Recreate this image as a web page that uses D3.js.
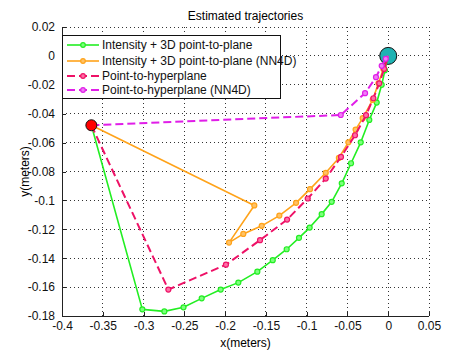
<!DOCTYPE html>
<html><head><meta charset="utf-8">
<script src="https://cdn.jsdelivr.net/npm/d3@7"></script>
<style>body{margin:0;background:#fff}svg{display:block;font-family:"Liberation Sans",Arial,sans-serif}</style>
</head><body><svg id="c" width="474" height="355"></svg>
<script>
const title = "Estimated trajectories";
const xLabel = "x(meters)";
const yLabel = "y(meters)";
const xTicks = [-0.4,-0.35,-0.3,-0.25,-0.2,-0.15,-0.1,-0.05,0,0.05];
const yTicks = [0.02,0,-0.02,-0.04,-0.06,-0.08,-0.1,-0.12,-0.14,-0.16,-0.18];
const seriesNames = ["Intensity + 3D point-to-plane","Intensity + 3D point-to-plane (NN4D)","Point-to-hyperplane","Point-to-hyperplane (NN4D)"];
const startPoint = [-0.364,-0.048];
const endPoint = [0,0];
const greenPts = [[-0.364,-0.048],[-0.3015,-0.1754],[-0.2745,-0.1768],[-0.251,-0.174],[-0.2287,-0.1678],[-0.2054,-0.1617],[-0.1838,-0.1569],[-0.1605,-0.1493],[-0.1416,-0.1414],[-0.1245,-0.1338],[-0.1094,-0.1259],[-0.0963,-0.1188],[-0.0816,-0.1095],[-0.0693,-0.101],[-0.057,-0.0882],[-0.0456,-0.0743],[-0.0337,-0.0598],[-0.0232,-0.0443],[-0.0141,-0.0323],[-0.008,-0.020],[-0.004,-0.010],[0,0]];
const orangePts = [[-0.364,-0.048],[-0.1642,-0.1035],[-0.1952,-0.1292],[-0.1777,-0.1232],[-0.1551,-0.1176],[-0.1335,-0.1105],[-0.113,-0.1017],[-0.0959,-0.0922],[-0.0766,-0.0809],[-0.0605,-0.0706],[-0.0489,-0.0598],[-0.040,-0.051],[-0.0313,-0.0431],[-0.019,-0.0304],[-0.012,-0.019],[-0.006,-0.009],[0,0]];
const crimsonPts = [[-0.364,-0.048],[-0.2696,-0.1617],[-0.199,-0.1445],[-0.1572,-0.1275],[-0.124,-0.1133],[-0.0987,-0.0987],[-0.0766,-0.0849],[-0.0579,-0.0699],[-0.0407,-0.0549],[-0.0272,-0.041],[-0.0182,-0.0293],[-0.011,-0.019],[-0.005,-0.009],[0,0]];
const purplePts = [[-0.364,-0.048],[-0.0582,-0.0409],[-0.0284,-0.0258],[-0.015,-0.0147],[-0.008,-0.0069],[-0.003,-0.002],[0,0]];

const W=474,H=355, L=62,R=429,T=27,B=316;
const FS="12px";
const svg=d3.select("#c");
const x=d3.scaleLinear().domain([-0.4,0.05]).range([L,R]);
const y=d3.scaleLinear().domain([-0.18,0.02]).range([B,T]);
const fmt=d=>String(+d.toFixed(3));

// grid
const g=svg.append("g");
g.selectAll(".gx").data(xTicks).join("line").attr("x1",d=>x(d)).attr("x2",d=>x(d)).attr("y1",T).attr("y2",B)
 .attr("stroke","#333").attr("stroke-width",1).attr("stroke-dasharray","1,3").attr("shape-rendering","crispEdges");
g.selectAll(".gy").data(yTicks).join("line").attr("y1",d=>y(d)).attr("y2",d=>y(d)).attr("x1",L).attr("x2",R)
 .attr("stroke","#333").attr("stroke-width",1).attr("stroke-dasharray","1,3").attr("shape-rendering","crispEdges");

// axes
const xa=d3.axisBottom(x).tickValues(xTicks).tickSize(-4).tickPadding(5).tickFormat(fmt);
const ya=d3.axisLeft(y).tickValues(yTicks).tickSize(-4).tickPadding(7).tickFormat(fmt);
const gx=svg.append("g").attr("transform",`translate(0,${B})`).call(xa);
const gy=svg.append("g").attr("transform",`translate(${L},0)`).call(ya);
[gx,gy].forEach(a=>{a.selectAll("path").attr("stroke","#222").attr("shape-rendering","crispEdges");
 a.selectAll("line").attr("stroke","#222").attr("shape-rendering","crispEdges");
 a.selectAll("text").attr("font-size",FS).attr("fill","#111").attr("font-family","Liberation Sans, Arial, sans-serif");});
gx.select(".domain").attr("d",`M${L},0H${R}`);
gy.select(".domain").attr("d",`M0,${T}V${B}`);

svg.append("text").attr("x",(L+R)/2).attr("y",20).attr("text-anchor","middle").attr("font-size",FS).text(title);
svg.append("text").attr("x",(L+R)/2).attr("y",347).attr("text-anchor","middle").attr("font-size",FS).text(xLabel);
svg.append("text").attr("transform",`translate(29,${(T+B)/2}) rotate(-90)`).attr("text-anchor","middle").attr("font-size",FS).text(yLabel);

// end marker (under lines)
svg.append("circle").attr("cx",x(endPoint[0])).attr("cy",y(endPoint[1])).attr("r",8.5).attr("fill","#1fb3b3").attr("stroke","#111").attr("stroke-width",1);

const line=d3.line().x(d=>x(d[0])).y(d=>y(d[1]));
const styles=[
 {pts:greenPts,c:"#22ee22",fill:"#7dff7d",dash:null,w:1.6},
 {pts:orangePts,c:"#ffa31a",fill:"#ffc266",dash:null,w:1.6},
 {pts:crimsonPts,c:"#ee1166",fill:"#ff6fa5",dash:"8,4",w:2},
 {pts:purplePts,c:"#e01ee8",fill:"#f07ef5",dash:"8,4",w:2}
];
styles.forEach(s=>{
 svg.append("path").datum(s.pts).attr("d",line).attr("fill","none").attr("stroke",s.c).attr("stroke-width",s.w)
  .attr("stroke-dasharray",s.dash).attr("stroke-linejoin","round");
 svg.append("g").selectAll("circle").data(s.pts.slice(1,-1)).join("circle").attr("cx",d=>x(d[0])).attr("cy",d=>y(d[1]))
  .attr("r",2.5).attr("fill",s.fill).attr("stroke",s.c).attr("stroke-width",1.2);
});

// start marker
svg.append("circle").attr("cx",x(startPoint[0])).attr("cy",y(startPoint[1])).attr("r",5.5).attr("fill","#ff0000").attr("stroke","#111").attr("stroke-width",1);

// legend
const lg=svg.append("g");
lg.append("rect").attr("x",62.5).attr("y",35.5).attr("width",218).attr("height",63).attr("fill","#fff").attr("stroke","#111").attr("stroke-width",1);
const ly=[45,61,76,90];
styles.forEach((s,i)=>{
 lg.append("line").attr("x1",67).attr("x2",99).attr("y1",ly[i]).attr("y2",ly[i]).attr("stroke",s.c).attr("stroke-width",s.w).attr("stroke-dasharray",s.dash);
 lg.append("circle").attr("cx",83).attr("cy",ly[i]).attr("r",2.3).attr("fill",s.fill).attr("stroke",s.c).attr("stroke-width",1.2);
 lg.append("text").attr("x",102).attr("y",ly[i]+4).attr("font-size",FS).attr("fill","#111").text(seriesNames[i]);
});
</script></body></html>
